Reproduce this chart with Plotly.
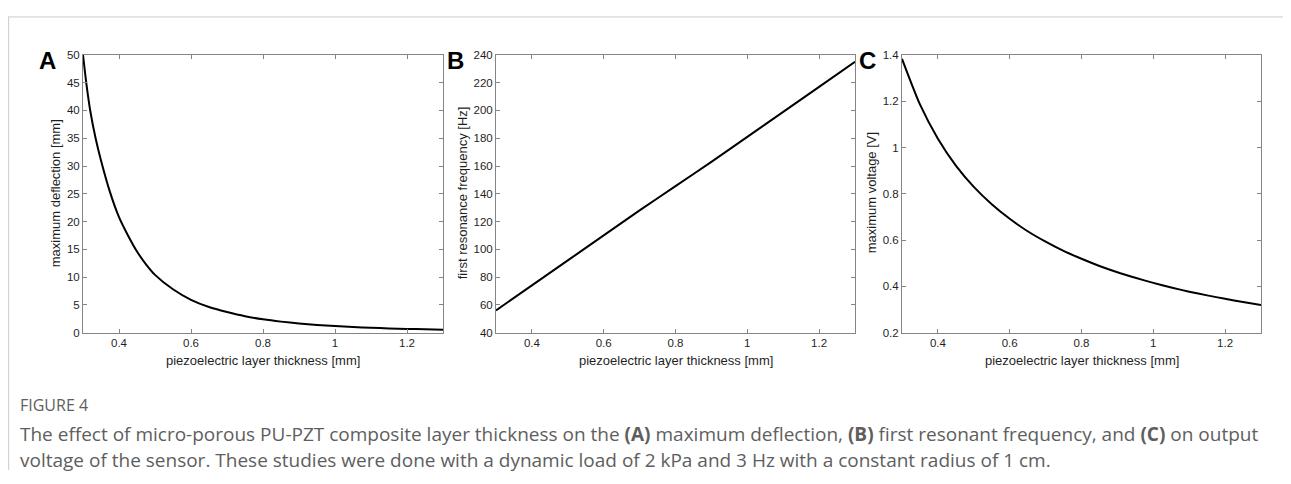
import plotly.graph_objects as go

# ---- data ----
thick_A = [0.30, 0.31, 0.32, 0.335, 0.35, 0.375, 0.40, 0.425, 0.45, 0.475, 0.50, 0.55, 0.60,
           0.65, 0.70, 0.75, 0.80, 0.85, 0.90, 0.95, 1.00, 1.05, 1.10, 1.15, 1.20, 1.25, 1.30]
deflection = [50.0, 44.5, 40.0, 35.0, 31.0, 25.3, 20.8, 17.5, 14.6, 12.3, 10.4, 7.8, 5.9,
              4.6, 3.7, 2.95, 2.4, 1.98, 1.65, 1.38, 1.17, 1.0, 0.87, 0.76, 0.67, 0.59, 0.52]

thick_B = [0.3, 0.4, 0.5, 0.6, 0.7, 0.8, 0.9, 1.0, 1.1, 1.2, 1.3]
frequency = [56, 74, 92, 110, 128, 145.5, 163, 181, 199, 217, 235]

thick_C = [0.30, 0.35, 0.40, 0.45, 0.50, 0.55, 0.60, 0.65, 0.70, 0.75, 0.80,
           0.85, 0.90, 0.95, 1.00, 1.05, 1.10, 1.15, 1.20, 1.25, 1.30]
voltage = [1.383, 1.186, 1.038, 0.922, 0.830, 0.755, 0.692, 0.638, 0.593, 0.553, 0.519,
           0.488, 0.461, 0.437, 0.415, 0.395, 0.377, 0.361, 0.346, 0.332, 0.319]

x_ticks = [0.4, 0.6, 0.8, 1.0, 1.2]
x_title = "piezoelectric layer thickness [mm]"
y_titles = ["maximum deflection [mm]", "first resonance frequency [Hz]", "maximum voltage [V]"]
panel_letters = ["A", "B", "C"]
caption_head = "FIGURE 4"
caption_lines = [
    "The effect of micro-porous PU-PZT composite layer thickness on the <b>(A)</b> maximum deflection, "
    "<b>(B)</b> first resonant frequency, and <b>(C)</b> on output",
    "voltage of the sensor. These studies were done with a dynamic load of 2 kPa and 3 Hz with a constant radius of 1 cm.",
]

# the page body has an 8px margin; size the figure so it fits the window and
# express target screen positions relative to that offset
OFF = 8
W, H = 1291 - 2 * OFF, 484 - 2 * OFF
def px(x):
    return (x - OFF) / W
def py(y):
    return 1 - (y - OFF) / H

x_domains = [[px(83), px(443)], [px(496), px(855)], [px(902), px(1261)]]
y_domain = [py(335), py(50)]
y_ranges = [[0, 50], [40, 240], [0.2, 1.4]]
y_dticks = [5, 20, 0.2]

fig = go.Figure()
series = [(thick_A, deflection), (thick_B, frequency), (thick_C, voltage)]
for i, (xs, ys) in enumerate(series):
    sfx = "" if i == 0 else str(i + 1)
    fig.add_trace(go.Scatter(x=xs, y=ys, mode="lines",
                             line=dict(color="black", width=2, shape="spline", smoothing=0.6),
                             xaxis="x" + sfx, yaxis="y" + sfx, showlegend=False))

axis_common = dict(showline=True, linecolor="#858585", linewidth=1, mirror="ticks",
                   ticks="inside", ticklen=4, tickcolor="#858585", showgrid=False, zeroline=False,
                   tickfont=dict(family="Liberation Sans, Arial", size=11.5, color="#1f1f1f"))
layout = dict(width=W, height=H, margin=dict(l=0, r=0, t=0, b=0),
              paper_bgcolor="white", plot_bgcolor="white", showlegend=False)
for i in range(3):
    sfx = "" if i == 0 else str(i + 1)
    layout["xaxis" + sfx] = dict(domain=x_domains[i], range=[0.3, 1.3], tickvals=x_ticks,
                                 anchor="y" + sfx, **axis_common)
    layout["yaxis" + sfx] = dict(domain=y_domain, range=y_ranges[i], dtick=y_dticks[i], tick0=0,
                                 anchor="x" + sfx, **axis_common)
fig.update_layout(**layout)

annotations = []
letter_x = [47, 455, 867]
ytitle_x = [55, 462, 871]
for i in range(3):
    cx = (x_domains[i][0] + x_domains[i][1]) / 2
    annotations.append(dict(x=cx, y=py(364), xref="paper", yref="paper", text=x_title,
                            showarrow=False, xanchor="center", yanchor="middle",
                            font=dict(family="Liberation Sans, Arial", size=13, color="#1f1f1f")))
    annotations.append(dict(x=px(ytitle_x[i]), y=py(192), xref="paper", yref="paper", text=y_titles[i],
                            textangle=-90, showarrow=False, xanchor="center", yanchor="middle",
                            font=dict(family="Liberation Sans, Arial", size=13, color="#1f1f1f")))
    annotations.append(dict(x=px(letter_x[i]), y=py(56), xref="paper", yref="paper",
                            text="<b>" + panel_letters[i] + "</b>", showarrow=False,
                            xanchor="center", yanchor="middle",
                            font=dict(family="Liberation Sans, Arial", size=24, color="black")))

annotations.append(dict(x=px(18), y=py(409), xref="paper", yref="paper", text=caption_head,
                        showarrow=False, xanchor="left", yanchor="middle",
                        font=dict(family="Open Sans", size=16, color="#5e5e5e")))
for j, line in enumerate(caption_lines):
    annotations.append(dict(x=px(18), y=py(439 + 27 * j), xref="paper", yref="paper", text=line,
                            showarrow=False, xanchor="left", yanchor="middle",
                            font=dict(family="Open Sans", size=19, color="#5e5e5e")))
fig.update_layout(annotations=annotations)

fig.update_layout(shapes=[
    dict(type="line", xref="paper", yref="paper", x0=0, x1=1, y0=py(11), y1=py(11),
         line=dict(color="#cccccc", width=1)),
    dict(type="line", xref="paper", yref="paper", x0=0.0005, x1=0.0005, y0=py(11), y1=0,
         line=dict(color="#cccccc", width=1)),
])

fig.write_html("out.html")
